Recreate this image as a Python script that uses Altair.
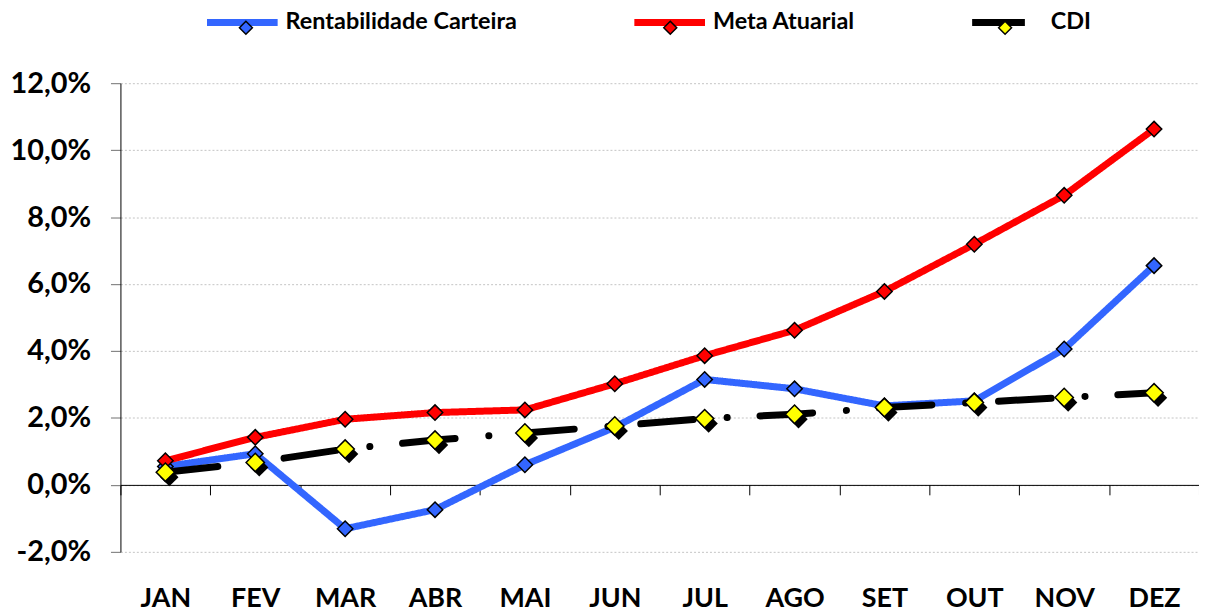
import altair as alt
import pandas as pd

# ---- data ----
meses = ["JAN", "FEV", "MAR", "ABR", "MAI", "JUN", "JUL", "AGO", "SET", "OUT", "NOV", "DEZ"]
series = ["Rentabilidade Carteira", "Meta Atuarial", "CDI"]
rentabilidade = [0.55, 0.93, -1.31, -0.74, 0.60, 1.72, 3.15, 2.87, 2.36, 2.51, 4.06, 6.55]
meta = [0.72, 1.42, 1.96, 2.16, 2.24, 3.02, 3.86, 4.62, 5.78, 7.19, 8.65, 10.63]
cdi = [0.38, 0.67, 1.07, 1.34, 1.55, 1.76, 1.98, 2.11, 2.31, 2.46, 2.61, 2.75]
y_ticks = [-2, 0, 2, 4, 6, 8, 10, 12]

cores_linha = ["#3366FF", "#FF0000", "#000000"]
cores_marcador = ["#3366FF", "#FF0000", "#FFFF00"]
tracos = [[1, 0], [1, 0], [53, 34, 0.1, 33]]

rows = []
for s, vals in zip(series, [rentabilidade, meta, cdi]):
    for m, v in zip(meses, vals):
        rows.append({"serie": s, "serie_m": s, "mes": m, "valor": v})
df = pd.DataFrame(rows)

FONT = "Lato"
W, H = 1084, 471

x = alt.X(
    "mes:N", sort=meses,
    scale=alt.Scale(type="band", paddingInner=0, paddingOuter=0),
    axis=alt.Axis(
        title=None, orient="bottom", offset=-H * 2 / 14, labelAngle=0, labelOverlap=False,
        domainColor="black", domainWidth=1, tickColor="black", tickSize=10,
        tickBand="extent", labelPadding=91, labelFont=FONT, labelFontSize=27,
        labelFontWeight="bold", labelColor="black", grid=False,
    ),
)
y = alt.Y(
    "valor:Q",
    scale=alt.Scale(domain=[-2, 12], nice=False, zero=False),
    axis=alt.Axis(
        title=None, values=y_ticks,
        labelExpr="replace(replace(format(datum.value, '.1f'), '.', ','), '\u2212', '-') + '%'",
        labelFont=FONT, labelFontSize=29, labelFontWeight="bold", labelColor="black",
        labelPadding=20, tickSize=10, tickColor="#707070", domainColor="black",
        grid=True, gridColor="#c4c4c4", gridDash=[2, 2], gridWidth=1,
    ),
)

leg_common = dict(
    title=None, orient="none", legendX=83.5, legendY=-100, direction="horizontal",
    columns=3, labelOffset=4.5, columnPadding=102.5, labelFont=FONT, labelFontSize=23.5,
    labelFontWeight="bold", labelColor="black", labelLimit=500, padding=0,
)
leg_line = alt.Legend(symbolType="stroke", symbolSize=71 * 71, symbolStrokeWidth=7, **leg_common)
leg_mark = alt.Legend(
    symbolType="M0,-0.151L0.151,0L0,0.151L-0.151,0Z", symbolSize=86.25 * 86.25,
    symbolOffset=-1.4, symbolStrokeWidth=1.5, symbolStrokeColor="black", labelOpacity=0,
    **leg_common,
)

base = alt.Chart(df)

linhas = base.mark_line(strokeWidth=7, strokeCap="round", strokeJoin="round").encode(
    x=x, y=y,
    stroke=alt.Stroke("serie:N", scale=alt.Scale(domain=series, range=cores_linha), legend=leg_line),
    strokeDash=alt.StrokeDash("serie:N", scale=alt.Scale(domain=series, range=tracos), legend=None),
)

fill_enc = alt.Fill("serie_m:N", sort=series, scale=alt.Scale(range=cores_marcador), legend=leg_mark)

pontos = base.transform_filter(alt.datum.serie != "CDI").mark_point(
    shape="diamond", filled=True, size=240, stroke="black", strokeWidth=1.5, opacity=1
).encode(x=x, y=y, fill=fill_enc)

sombra = base.transform_filter(alt.datum.serie == "CDI").mark_point(
    shape="diamond", filled=True, size=340, fill="black", strokeWidth=0, opacity=1,
    xOffset=4, yOffset=5,
).encode(x=x, y=y)

pontos_cdi = base.transform_filter(alt.datum.serie == "CDI").mark_point(
    shape="diamond", filled=True, size=340, stroke="black", strokeWidth=1.5, opacity=1
).encode(x=x, y=y, fill=fill_enc)

chart = alt.layer(linhas, pontos, sombra, pontos_cdi).properties(
    width=W, height=H,
    padding={"left": 113, "top": 74, "right": 0, "bottom": 80},
    autosize=alt.AutoSizeParams(type="none"),
).configure_view(stroke=None)

chart.save("out.html", embed_options={"renderer": "svg", "actions": False})
